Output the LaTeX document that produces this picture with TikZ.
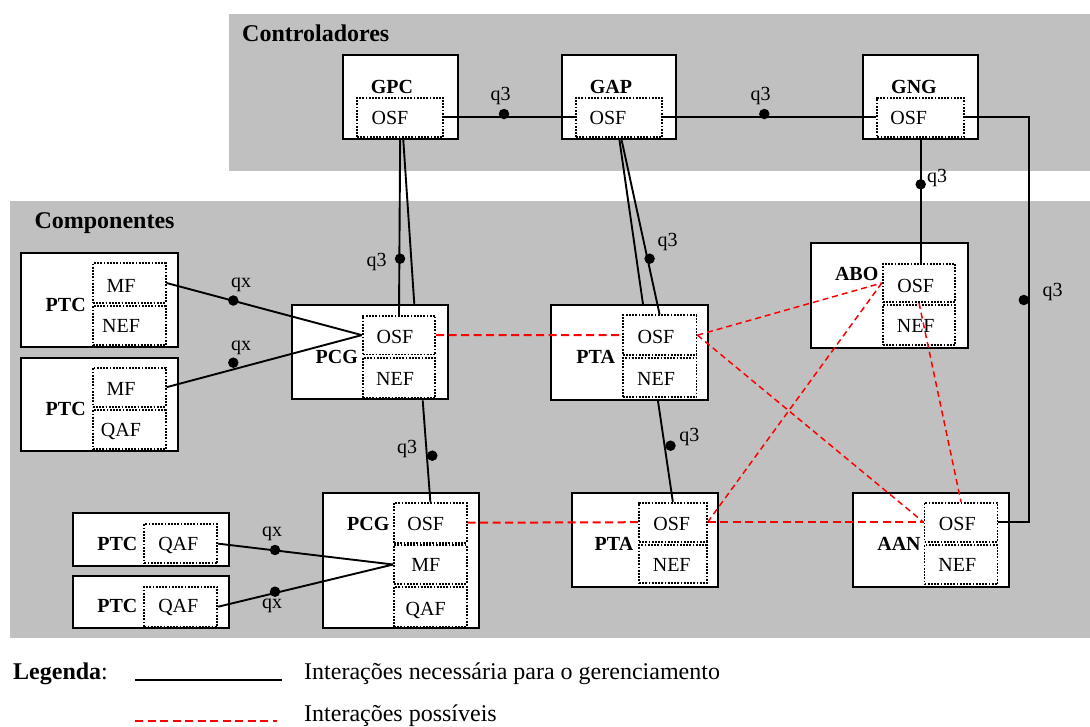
\documentclass[tikz,border=0pt]{standalone}
\usepackage{fontspec}
\setmainfont{Liberation Serif}
\usetikzlibrary{fit}
\definecolor{panelgray}{RGB}{192,192,192}
\begin{document}
\begin{tikzpicture}[x=1pt,y=-1pt,
  panel/.style={fill=panelgray,draw=none,inner sep=0pt},
  outer/.style={draw,line width=2.1pt,fill=white,inner sep=0pt},
  part/.style={draw,line width=1.8pt,dash pattern=on 1.8pt off 1.4pt,inner sep=0pt},
  title/.style={font=\fontsize{24}{28}\selectfont\bfseries,anchor=base west,inner sep=0pt},
  lbl/.style={font=\fontsize{20}{24}\selectfont\bfseries,anchor=base,inner sep=0pt},
  txt/.style={font=\fontsize{20}{24}\selectfont,anchor=base,inner sep=0pt},
  legtxt/.style={font=\fontsize{24}{28}\selectfont,anchor=base west,inner sep=0pt},
  link/.style={line width=1.9pt},
  opt/.style={red,line width=2pt,dash pattern=on 8pt off 4.5pt},
  optthin/.style={red,line width=1.5pt,dash pattern=on 6pt off 4pt},
  dot/.style={circle,fill=black,inner sep=0pt,minimum size=10.5pt}]
\useasboundingbox (0,0) rectangle (1090,726);

% grey panels
\node[panel,fit={(229,14) (1090,170.7)}] (ctrl) {};
\node[panel,fit={(10,201) (1090,638)}] (comp) {};
\node[title] (ctrltitle) at (242,41.5) {Controladores};
\node[title] (comptitle) at (34.3,228.3) {Componentes};

% ---- controllers ----
\node[outer,fit={(343.3,55.3) (457.7,139.3)}] (gpc) {};
\node[part,fit={(357,97.7) (443.3,137)}] (gpcosf) {};
\node[lbl] (gpclbl) at (392,93) {GPC};
\node[txt] (gpcosft) at (390,124) {OSF};

\node[outer,fit={(561.7,55.3) (676,139.3)}] (gap) {};
\node[part,fit={(576,97.7) (662.3,137)}] (gaposf) {};
\node[lbl] (gaplbl) at (611,93) {GAP};
\node[txt] (gaposft) at (608,124) {OSF};

\node[outer,fit={(863.3,55.3) (978.3,139.3)}] (gng) {};
\node[part,fit={(877.3,97.7) (964,137)}] (gngosf) {};
\node[lbl] (gnglbl) at (914,93) {GNG};
\node[txt] (gngosft) at (908.7,124) {OSF};

% ---- components ----
% PTC (MF / NEF)
\node[outer,fit={(20.7,253.3) (177.7,347.3)}] (ptc1) {};
\node[part,fit={(92.7,263.3) (165.7,302.7)}] (ptc1mf) {};
\node[part,fit={(92.7,306) (165.7,345.3)}] (ptc1nef) {};
\node[lbl] (ptc1lbl) at (65.7,311) {PTC};
\node[txt] (ptc1mft) at (121,292.7) {MF};
\node[txt] (ptc1neft) at (121,332.7) {NEF};

% PTC (MF / QAF)
\node[outer,fit={(20.7,357.7) (177.7,450.7)}] (ptc2) {};
\node[part,fit={(92.7,367.7) (165.7,406.7)}] (ptc2mf) {};
\node[part,fit={(92.7,410) (165.7,449.3)}] (ptc2qaf) {};
\node[lbl] (ptc2lbl) at (65.7,415) {PTC};
\node[txt] (ptc2mft) at (121,395) {MF};
\node[txt] (ptc2qaft) at (121,436.7) {QAF};

% PCG (OSF / NEF)
\node[outer,fit={(291.7,305.3) (447.7,399.3)}] (pcg1) {};
\node[part,fit={(362.7,315.7) (435.3,354.5)}] (pcg1osf) {};
\node[part,fit={(362.7,357.7) (435.3,398)}] (pcg1nef) {};
\node[lbl] (pcg1lbl) at (336.7,363.3) {PCG};
\node[txt] (pcg1osft) at (395,343.3) {OSF};
\node[txt] (pcg1neft) at (395,385) {NEF};

% PCG (OSF / MF / QAF)
\node[outer,fit={(322.7,492.7) (479,628.3)}] (pcg2) {};
\node[part,fit={(394,502.7) (466.7,542.7)}] (pcg2osf) {};
\node[part,fit={(394,545) (466.7,584)}] (pcg2mf) {};
\node[part,fit={(394,586.7) (466.7,626.7)}] (pcg2qaf) {};
\node[lbl] (pcg2lbl) at (368.3,530.7) {PCG};
\node[txt] (pcg2osft) at (425.7,530.7) {OSF};
\node[txt] (pcg2mft) at (425.7,571.7) {MF};
\node[txt] (pcg2qaft) at (425.7,615) {QAF};

% PTC (QAF)
\node[outer,fit={(73.3,513.3) (229.3,566)}] (ptc3) {};
\node[part,fit={(144.3,524) (217.3,563.3)}] (ptc3qaf) {};
\node[lbl] (ptc3lbl) at (117.3,550.7) {PTC};
\node[txt] (ptc3qaft) at (178.3,550.7) {QAF};

\node[outer,fit={(73.3,576) (229.3,628.3)}] (ptc4) {};
\node[part,fit={(144.3,586.7) (217.3,626.7)}] (ptc4qaf) {};
\node[lbl] (ptc4lbl) at (117.3,612.3) {PTC};
\node[txt] (ptc4qaft) at (178.3,612.3) {QAF};

% PTA (upper)
\node[outer,fit={(551.2,305.3) (708,400)}] (pta1) {};
\node[part,fit={(622.7,315.3) (696.5,355)}] (pta1osf) {};
\node[part,fit={(622.7,358) (696.5,397.3)}] (pta1nef) {};
\node[lbl] (pta1lbl) at (595.7,363.3) {PTA};
\node[txt] (pta1osft) at (656,343.3) {OSF};
\node[txt] (pta1neft) at (656,385) {NEF};

% PTA (lower)
\node[outer,fit={(572.3,493.3) (717.7,586.7)}] (pta2) {};
\node[part,fit={(639,502.7) (706.7,541.7)}] (pta2osf) {};
\node[part,fit={(639,545) (706.7,583.3)}] (pta2nef) {};
\node[lbl] (pta2lbl) at (614,550) {PTA};
\node[txt] (pta2osft) at (671.7,530) {OSF};
\node[txt] (pta2neft) at (671.7,571.7) {NEF};

% ABO
\node[outer,fit={(811,243.3) (967.7,347.7)}] (abo) {};
\node[part,fit={(882.7,264) (955.3,302)}] (aboosf) {};
\node[part,fit={(882.7,305.3) (955.3,345)}] (abonef) {};
\node[lbl] (abolbl) at (856.7,280) {ABO};
\node[txt] (aboosft) at (915.7,292.3) {OSF};
\node[txt] (aboneft) at (915.7,332.7) {NEF};

% AAN
\node[outer,fit={(852.6,492.7) (1008.8,586.7)}] (aan) {};
\node[part,fit={(924.5,502.7) (997.5,541.7)}] (aanosf) {};
\node[part,fit={(924.5,545) (997.5,584.3)}] (aannef) {};
\node[lbl] (aanlbl) at (899,550) {AAN};
\node[txt] (aanosft) at (957.3,530) {OSF};
\node[txt] (aanneft) at (957.3,571.7) {NEF};

% ---- required management interactions ----
\draw[link] (gpcosf.east) -- (gaposf.west);
\draw[link] (gaposf.east) -- (gngosf.west);
\draw[link] (gngosf.east) -- ++(64.5,0) |- (aanosf.east);
\draw[link] (gngosf.south) -- (gngosf.south |- aboosf.north);
\draw[link] (gpcosf.south) -- (pcg1osf.north);
\draw[link] ([xshift=3pt]gpcosf.south) -- ([xshift=44.6pt]pcg1.north);
\draw[link] (gaposf.south) -- ([xshift=13.4pt]pta1.north);
\draw[link] ([xshift=2pt]gaposf.south) -- (pta1osf.north);
\draw[link] ([xshift=53pt]pcg1.south) -- (pcg2osf.north);
\draw[link] ([xshift=28.4pt]pta1.south) -- (pta2osf.north);
\draw[link] (ptc1mf.east) -- (pcg1osf.west);
\draw[link] (ptc2mf.east) -- (pcg1osf.west);
\draw[link] (ptc3qaf.east) -- (pcg2mf.west);
\draw[link] (ptc4qaf.east) -- (pcg2mf.west);

% ---- possible interactions ----
\draw[opt] (pcg1osf.east) -- (pta1osf.west);
\draw[opt] (pcg2osf.east) -- (pta2osf.west);
\draw[opt] (pta2osf.east) -- (aanosf.west);
\draw[optthin] (pta1osf.east) -- (aboosf.west);
\draw[optthin] (pta1osf.east) -- (aanosf.west);
\draw[optthin] (pta2osf.east) -- (aboosf.west);
\draw[optthin] (aboosf.south) -- (aanosf.north);

% ---- reference points ----
\node[dot] (d1) at (504,114) {};
\node[dot] (d2) at (764.3,114) {};
\node[dot] (d3) at (920.7,184.3) {};
\node[dot] (d4) at (400,258.7) {};
\node[dot] (d5) at (649.6,258.7) {};
\node[dot] (d6) at (1023.8,300) {};
\node[dot] (d7) at (233.3,300.5) {};
\node[dot] (d8) at (233.3,362.7) {};
\node[dot] (d9) at (432.3,455.7) {};
\node[dot] (d10) at (670.5,445.7) {};
\node[dot] (d11) at (275,550) {};
\node[dot] (d12) at (275,591.7) {};

\node[txt] (r1) at (500.7,100) {q3};
\node[txt] (r2) at (760.7,100) {q3};
\node[txt] (r3) at (937,182.7) {q3};
\node[txt] (r4) at (376.7,266.7) {q3};
\node[txt] (r5) at (667.5,246.7) {q3};
\node[txt] (r6) at (1052.5,296.7) {q3};
\node[txt] (r7) at (241,287.3) {qx};
\node[txt] (r8) at (241,350) {qx};
\node[txt] (r9) at (407,453.3) {q3};
\node[txt] (r10) at (689.4,441.7) {q3};
\node[txt] (r11) at (272,536.7) {qx};
\node[txt] (r12) at (272,608.3) {qx};

% ---- legend ----
\node[legtxt] (legtitle) at (13,679.5) {\textbf{Legenda}:};
\coordinate (la1) at (135,680);
\coordinate (la2) at (281.7,680);
\coordinate (lb1) at (135,721);
\coordinate (lb2) at (277,721);
\draw[line width=2.1pt] (la1) -- (la2);
\draw[opt] (lb1) -- (lb2);
\node[legtxt] (legreq) at (304,679.3) {Interações necessária para o gerenciamento};
\node[legtxt] (legopt) at (304,721.7) {Interações possíveis};
\end{tikzpicture}
\end{document}
